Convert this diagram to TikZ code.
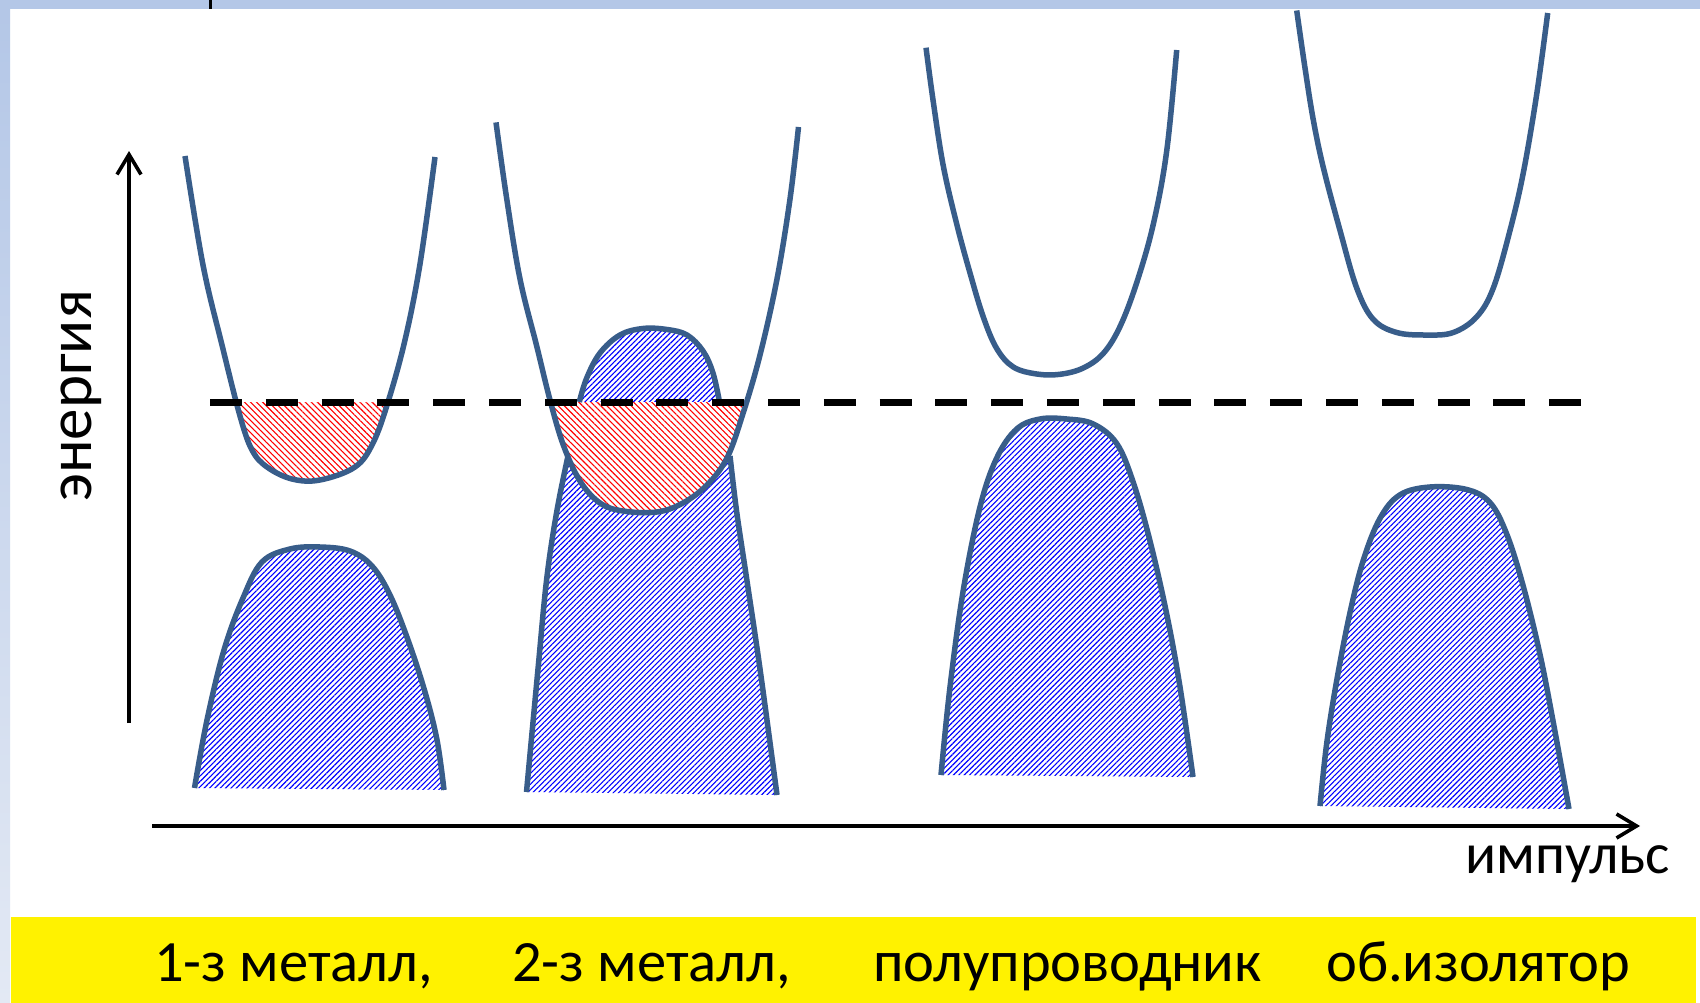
\documentclass[tikz,border=0pt]{standalone}
\usepackage{fontspec}
\setmainfont{Carlito}
\usetikzlibrary{patterns.meta,arrows.meta}
\definecolor{bandline}{HTML}{385D8A}
\definecolor{framecol}{HTML}{B4C7E7}
\definecolor{framelight}{HTML}{E3E9F4}
\newcommand\lblfont{\fontsize{57.5}{64}\selectfont}
\newcommand\enfont{\fontsize{63}{70}\selectfont}
\newcommand\capfont{\fontsize{58.5}{64}\selectfont}
\tikzset{
  band/.style={draw=bandline, line width=5.5pt, line join=round},
  bluehatch/.style={pattern={Lines[angle=45,distance=3.8pt,line width=1.1pt]}, pattern color=blue},
  redhatch/.style={pattern={Lines[angle=-45,distance=4.3pt,line width=1.1pt]}, pattern color=red},
  axisline/.style={line width=3.6pt, -{Straight Barb[length=20pt,width=24pt,line width=3.6pt]}},
  fermi/.style={line width=7pt, dash pattern=on 32pt off 23.8pt},
  lbl/.style={font=\lblfont, inner sep=0pt},
  captext/.style={font=\capfont, inner sep=0pt, anchor=base west}
}
\begin{document}
\begin{tikzpicture}[x=1pt,y=-1pt]
\useasboundingbox (0,0) rectangle (1700,1003);
\fill[white] (0,0) rectangle (1700,1003);
% frame
\fill[framecol] (0,0) rectangle (1700,9);
\shade[top color=framecol,bottom color=framelight] (0,9) rectangle (10,1003);
\fill[black] (208.5,0) rectangle (211.5,9);
\fill[yellow] (11,917) rectangle (1696,1003);

% ---- blue (valence) fills
\path[bluehatch] plot[smooth,tension=.6] coordinates {(194.5,788) (207,720) (224,650) (243,598) (262,562) (290,549) (320,547) (350,551) (372,566) (390,595) (408,640) (425,692) (437,740) (444,790)} -- cycle;
\path[bluehatch] plot[smooth,tension=.6] coordinates {(526.5,792) (538,669) (546.7,579) (556.7,512) (568,456)}
  -- plot[smooth,tension=.6] coordinates {(579.3,402) (586.7,378) (600,353) (620,335) (643,328.5) (667,329.5) (687,335) (703,351) (713,373) (719.5,402)}
  -- plot[smooth,tension=.6] coordinates {(730,456) (736.7,512) (746.7,579) (760,669) (777,795)} -- cycle;
\path[bluehatch] plot[smooth,tension=.6] coordinates {(941,775) (950,687) (963.3,590) (980,507) (996.7,458) (1016.7,429) (1040,419) (1066.7,419) (1093.3,424) (1116.7,443.5) (1133.3,482.5) (1150,541) (1166.7,614) (1180,687) (1193,777)} -- cycle;
\path[bluehatch] plot[smooth,tension=.6] coordinates {(1320,806) (1326.7,743.5) (1336.7,680.6) (1350,612.6) (1363.3,560.2) (1380,518.3) (1400,494.8) (1430,487) (1466.7,489.5) (1490,502.6) (1506.7,534) (1523.3,586.4) (1540,654.5) (1553.3,722.5) (1569,809)} -- cycle;

% ---- red (filled conduction) regions
\begin{scope}
\clip (0,402) rectangle (1700,1003);
\path[redhatch] plot[smooth,tension=.6] coordinates {(185,156) (203,265) (222,345) (240,416) (252,450) (267,467) (292,479) (320,480) (355,467) (373,443) (388,402) (405,340) (420,264) (435,157)} -- cycle;
\fill[white] plot[smooth,tension=.6] coordinates {(496,122.4) (506.7,198.6) (520,279) (536.7,346) (550,400) (563.3,445) (580,481) (600,503) (623,511) (657,512) (683,503) (707,485) (727,458) (743,413.5) (760,355) (777,279) (790,199) (798.5,127)} -- cycle;
\path[redhatch] plot[smooth,tension=.6] coordinates {(496,122.4) (506.7,198.6) (520,279) (536.7,346) (550,400) (563.3,445) (580,481) (600,503) (623,511) (657,512) (683,503) (707,485) (727,458) (743,413.5) (760,355) (777,279) (790,199) (798.5,127)} -- cycle;
\end{scope}

% ---- band outlines
\draw[band] plot[smooth,tension=.6] coordinates {(185,156) (203,265) (222,345) (240,416) (252,450) (267,467) (292,479) (320,480) (355,467) (373,443) (388,402) (405,340) (420,264) (435,157)};
\draw[band] plot[smooth,tension=.6] coordinates {(194.5,788) (207,720) (224,650) (243,598) (262,562) (290,549) (320,547) (350,551) (372,566) (390,595) (408,640) (425,692) (437,740) (444,790)};

\draw[band] plot[smooth,tension=.6] coordinates {(496,122.4) (506.7,198.6) (520,279) (536.7,346) (550,400) (563.3,445) (580,481) (600,503) (623,511) (657,512) (683,503) (707,485) (727,458) (743,413.5) (760,355) (777,279) (790,199) (798.5,127)};
\draw[band] plot[smooth,tension=.6] coordinates {(579.3,402) (586.7,378) (600,353) (620,335) (643,328.5) (667,329.5) (687,335) (703,351) (713,373) (719.5,402)};
\draw[band] plot[smooth,tension=.6] coordinates {(568,456) (556.7,512) (546.7,579) (538,669) (526.5,792)};
\draw[band] plot[smooth,tension=.6] coordinates {(730,456) (736.7,512) (746.7,579) (760,669) (777,795)};

\draw[band] plot[smooth,tension=.6] coordinates {(926,47.7) (933.3,102) (943.3,166) (956.7,224) (970,273) (983.3,317) (996.7,348.5) (1013.3,367) (1036.7,374) (1060,374.3) (1083.3,368) (1103.3,353.4) (1120,326.6) (1136.7,282.7) (1153.3,224.2) (1166.7,151) (1176.7,50)};
\draw[band] plot[smooth,tension=.6] coordinates {(941,775) (950,687) (963.3,590) (980,507) (996.7,458) (1016.7,429) (1040,419) (1066.7,419) (1093.3,424) (1116.7,443.5) (1133.3,482.5) (1150,541) (1166.7,614) (1180,687) (1193,777)};

\draw[band] plot[smooth,tension=.6] coordinates {(1296.7,10.5) (1305,68) (1313.3,120) (1323.3,167.5) (1340,230.4) (1356.7,288) (1373.3,319.4) (1396.7,332.5) (1426.7,335) (1453.3,332.5) (1476.7,316.8) (1493.3,288) (1510,230.4) (1523.3,172.8) (1536.7,94.2) (1547.7,13)};
\draw[band] plot[smooth,tension=.6] coordinates {(1320,806) (1326.7,743.5) (1336.7,680.6) (1350,612.6) (1363.3,560.2) (1380,518.3) (1400,494.8) (1430,487) (1466.7,489.5) (1490,502.6) (1506.7,534) (1523.3,586.4) (1540,654.5) (1553.3,722.5) (1569,809)};

% ---- Fermi level
\coordinate (fl) at (210,402);
\coordinate (fr) at (1586,402);
\draw[fermi] (fl) -- (fr);

% ---- axes
\coordinate (o1) at (129,723);
\coordinate (ytip) at (129,151);
\coordinate (o2) at (152,826);
\coordinate (xtip) at (1640,826);
\draw[axisline] (o1) -- (ytip);
\draw[axisline] (o2) -- (xtip);

\node[inner sep=0pt, font=\enfont, rotate=90] (energy) at (81,396) {энергия};
\node[lbl, anchor=base west] (momentum) at (1465,873) {импульс};

% ---- captions
\node[captext] (c1) at (154,981.5) {1-з металл,};
\node[captext] (c2) at (512,981.5) {2-з металл,};
\node[captext] (c3) at (873,981.5) {полупроводник};
\node[captext] (c4) at (1326,981.5) {об.изолятор};
\end{tikzpicture}
\end{document}
